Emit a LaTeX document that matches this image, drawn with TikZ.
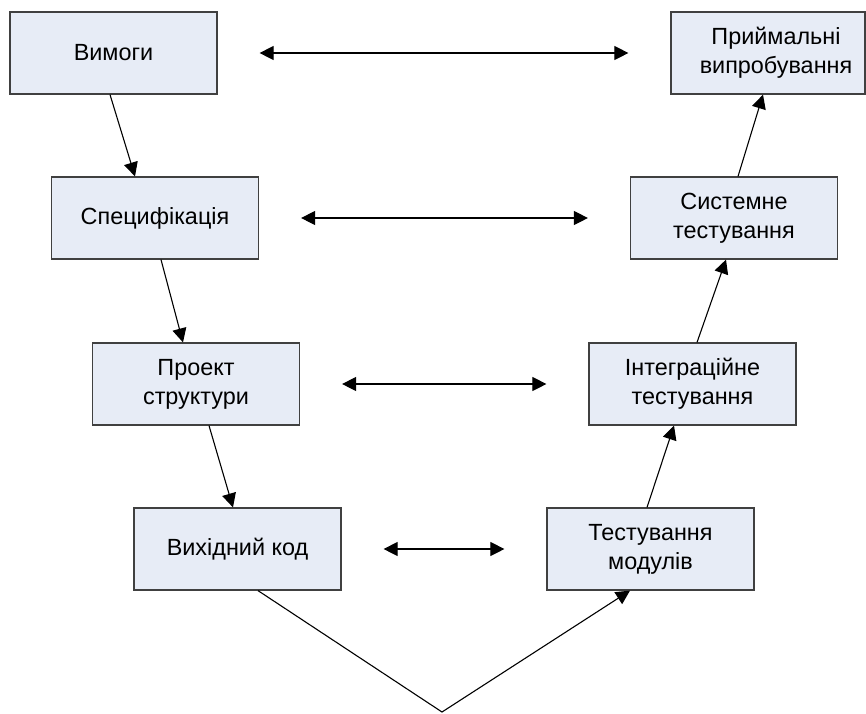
\documentclass[tikz,border=0pt]{standalone}
\usepackage{fontspec}
\setmainfont{Liberation Sans}
\usetikzlibrary{arrows.meta,calc}
\definecolor{boxfill}{RGB}{231,236,246}
\definecolor{boxline}{RGB}{64,64,64}
\begin{document}
\begin{tikzpicture}[x=0.5pt,y=-0.5pt,
  stage/.style={draw=boxline, line width=0.6pt, fill=boxfill,
    minimum width=103.5pt, minimum height=41pt, inner sep=0pt,
    align=center, font=\fontsize{11.7}{14.5}\selectfont},
  caption/.style={inner sep=0pt, align=center, font=\fontsize{11.7}{14.5}\selectfont},
  tip/.tip={Triangle[length=7pt,width=7pt]},
  flow/.style={draw=black, line width=0.55pt, -tip},
  link/.style={draw=black, line width=0.55pt, tip-tip, shorten <=21pt, shorten >=21pt}]
\useasboundingbox (0,0) rectangle (866,713);

% left branch of the V
\node[stage] (A) at (113.5,53) {Вимоги};
\node[stage] (B) at (155,218) {Специфікація};
\node[stage] (C) at (196,384) {Проект\\структури};
\node[stage] (D) at (237.5,549) {Вихідний код};

% right branch of the V
\node[stage] (E) at (650.5,549) {Тестування\\модулів};
\node[stage] (F) at (692.5,384) {Інтеграційне\\тестування};
\node[stage] (G) at (734,218) {Системне\\тестування};
\node[stage, minimum width=97pt] (H) at (768,53) {};
\node[caption] (Ht) at (776,53) {Приймальні\\випробування};

\coordinate (V) at (442,712);

% descending steps
\draw[flow] ($(A.south)+(-3.5,0)$) -- ($(B.north)+(-20,0)$);
\draw[flow] ($(B.south)+(6,0)$) -- ($(C.north)+(-13,0)$);
\draw[flow] ($(C.south)+(13,0)$) -- ($(D.north)+(-4.5,0)$);
\draw[flow] ($(D.south)+(20.5,0)$) -- (V) -- ($(E.south)+(-20.5,0)$);

% ascending steps
\draw[flow] ($(E.north)+(-3.5,0)$) -- ($(F.south)+(-18.5,0)$);
\draw[flow] ($(F.north)+(4.5,0)$) -- ($(G.south)+(-8,0)$);
\draw[flow] ($(G.north)+(4,0)$) -- ($(H.south)+(-5,0)$);

% correspondence between levels
\draw[link] (A.east) -- (H.west);
\draw[link] (B.east) -- (G.west);
\draw[link] (C.east) -- (F.west);
\draw[link] (D.east) -- (E.west);
\end{tikzpicture}
\end{document}
